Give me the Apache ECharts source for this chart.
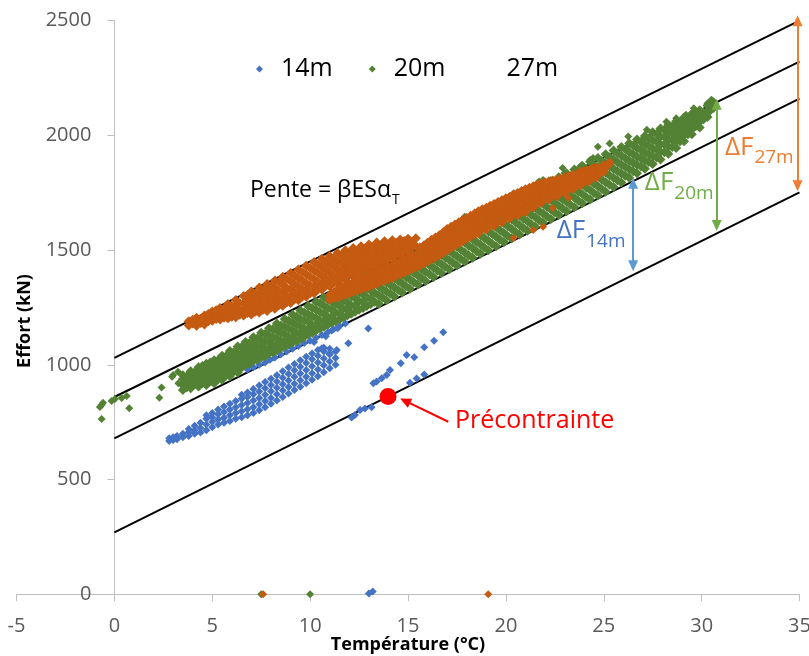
<!DOCTYPE html>
<html><head><meta charset="utf-8">
<script src="https://cdn.jsdelivr.net/npm/echarts@6/dist/echarts.min.js"></script>
<style>html,body{margin:0;padding:0;background:#fff}#c{width:809px;height:656px}</style>
</head><body><div id="c"></div>
<script>
// ---------- axes ----------
const xAxisRange = {min: -5, max: 35, interval: 5};
const yAxisRange = {min: 0, max: 2500, interval: 500};

// ---------- reference lines (slope = beta*E*S*alpha_T) ----------
const line1 = [[0, 1030], [35, 2500]];
const line2 = [[0, 860], [35, 2322]];
const line3 = [[0, 680], [35, 2160]];
const line4 = [[0, 270], [35, 1752]];

// ---------- 14m (blue) : columns [x, [y...]] ----------
const blueCols = [
 [2.8,[668,680]],[3.0,[672,684]],[3.2,[676,690]],[3.5,[684,700]],[3.8,[690,706,720]],
 [4.1,[700,715,735]],[4.4,[705,725,748]],[4.7,[715,740,765,780]],[5.0,[728,752,772,790]],
 [5.3,[740,762,785,805]],[5.6,[748,770,795,818]],[5.9,[755,780,805,830]],[6.2,[765,790,815,842]],
 [6.5,[772,798,825,852,870]],[6.8,[780,806,834,860,880]],[7.1,[790,815,845,872,895]],
 [7.4,[802,828,856,884,910]],[7.7,[815,842,870,898,925]],[8.0,[830,856,885,912,940]],
 [8.3,[845,872,900,928,955]],[8.6,[860,888,916,944,972]],[8.9,[875,903,932,960,988]],
 [9.2,[890,918,948,976,1004]],[9.5,[905,933,962,992,1020]],[9.8,[920,948,978,1008,1035]],
 [10.1,[935,963,994,1024,1050]],[10.4,[950,980,1010,1040,1065]],[10.7,[968,998,1028,1058,1075]],
 [11.0,[985,1015,1045,1070]],[11.3,[1000,1030,1058]]
];
const bluePts = [
 [6.8,980],[7.1,990],[7.4,1000],[7.7,1010],[7.95,1022],[8.2,1032],[8.5,1045],[8.8,1058],
 [9.1,1070],[9.4,1082],[9.7,1095],[10.0,1105],[10.3,1118],[10.6,1130],[10.9,1142],
 [11.2,1155],[11.5,1168],[11.8,1180],[9.0,1085],[10.2,1100],[10.8,1125],[11.1,1150],[11.4,1160],
 [10.6,1072],[11.0,1050],[11.36,1065],[11.95,1094],[12.97,1159],
 [12.12,771],[12.29,782],[12.55,803],[12.8,810],[13.14,815],[13.23,920],[13.4,927],
 [13.66,942],[13.91,956],[14.08,978],[14.63,1007],[14.93,1043],[15.32,1033],[15.83,1077],
 [16.33,1105],[16.8,1142],[15.1,922],[15.44,941],[15.83,958],[13.0,3],[13.2,12]
];

// ---------- 20m (green) ----------
const greenCols = [
 [3.5,[890,912,938,955]],[3.9,[898,925,950,972]],[4.3,[906,930,958,990]],
 [4.7,[912,940,965,988,1005]],[5.1,[920,948,975,1000,1020]],[5.5,[935,962,990,1015,1040]],
 [5.9,[950,977,1005,1033,1060]],[6.3,[967,995,1022,1050,1080]],[6.7,[1001,1025,1045,1070,1100]],
 [7.1,[1018,1040,1062,1090,1120]],[7.5,[1033,1055,1080,1108,1140]],[7.9,[1049,1070,1098,1128,1160]],
 [8.3,[1065,1088,1115,1148,1180]],[8.7,[1081,1102,1132,1165,1200]],[9.1,[1098,1120,1150,1185,1220]],
 [9.5,[1113,1136,1167,1200,1237]],[9.9,[1133,1155,1187,1220,1256]],[10.3,[1150,1172,1203,1240,1275]],
 [10.7,[1166,1190,1222,1258,1295]],[11.1,[1183,1207,1240,1275,1312]],[11.5,[1198,1222,1257,1292,1330]],
 [11.9,[1215,1240,1272,1310,1346]],[12.3,[1231,1256,1290,1327,1365]],[12.7,[1248,1273,1307,1345,1383]],
 [13.1,[1265,1288,1323,1362,1400]],[13.5,[1265,1303,1342,1380,1420]],[13.9,[1282,1320,1358,1398,1437]],
 [14.3,[1298,1337,1376,1415,1455]],[14.7,[1315,1355,1393,1433,1472]],[15.1,[1332,1372,1410,1450,1490]],
 [15.5,[1350,1390,1428,1468,1507]],[15.9,[1366,1405,1445,1485,1525]],[16.3,[1383,1423,1463,1503,1543]],
 [16.7,[1400,1440,1480,1520,1560]],[17.1,[1417,1457,1497,1538,1578]],[17.5,[1433,1473,1515,1555,1595]],
 [17.9,[1450,1490,1532,1572,1612]],[18.3,[1467,1508,1548,1590,1630]],[18.7,[1484,1525,1565,1606,1647]],
 [19.1,[1500,1541,1582,1623,1664]],[19.5,[1517,1558,1600,1641,1682]],[19.9,[1534,1575,1617,1658,1700]],
 [20.3,[1551,1592,1633,1675,1716]],[20.7,[1568,1609,1650,1692,1733]],[21.1,[1585,1626,1667,1709,1750]],
 [21.5,[1602,1643,1684,1725,1767]],[21.9,[1619,1660,1701,1742,1784]],[22.3,[1636,1677,1718,1760,1801]],
 [22.7,[1653,1694,1735,1777,1818]],[23.1,[1670,1711,1752,1794,1835]],[23.5,[1687,1728,1770,1811,1852]],
 [23.9,[1704,1745,1786,1827,1868]],[24.3,[1721,1762,1803,1844,1885]],[24.7,[1738,1779,1820,1861,1902]],
 [25.1,[1755,1796,1837,1878,1918]],[25.5,[1775,1815,1855,1895,1934]],[25.9,[1795,1834,1872,1911,1950]],
 [26.3,[1815,1853,1890,1928,1966]],[26.7,[1835,1872,1908,1945,1982]],[27.1,[1855,1891,1926,1962,1998]],
 [27.5,[1875,1910,1944,1979,2014]],[27.9,[1895,1929,1962,1996,2030]],[28.3,[1920,1952,1983,2015,2046]],
 [28.7,[1945,1975,2004,2033,2062]],[29.1,[1975,2001,2026,2052,2078]],[29.5,[2005,2027,2050,2072,2094]],
 [29.9,[2035,2060,2085,2110]],[30.3,[2080,2105,2130]],[30.6,[2120,2145]],
 [3.7,[902,928,950]],[4.1,[915,942,968]],[4.5,[920,948,975,995]],[4.9,[930,958,985,1010]],
 [5.3,[938,965,992,1020]],[5.7,[955,983,1010,1038]],[6.1,[972,1000,1028,1055]],
 [6.5,[988,1018,1048,1078]],[6.9,[1005,1035,1065,1095]],[7.3,[1022,1052,1083,1115]],
 [7.7,[1038,1070,1102,1135]],[8.1,[1055,1088,1120,1155]],[8.5,[1072,1105,1140,1172]],
 [8.9,[1090,1122,1158,1192]],[9.3,[1105,1140,1175,1210]],[9.7,[1122,1158,1193,1228]],
 [10.1,[1140,1175,1212,1248]],[10.5,[1158,1193,1230,1268]],[10.9,[1175,1210,1247,1285]],
 [11.3,[1190,1228,1265,1303]],[11.7,[1207,1245,1282,1320]],[12.1,[1223,1260,1298,1336]],
 [12.5,[1240,1278,1316,1355]],[12.9,[1257,1295,1333,1372]],[13.3,[1275,1313,1352,1390]],
 [13.7,[1292,1330,1368,1408]],[14.1,[1310,1348,1386,1425]],[14.5,[1326,1365,1404,1443]],
 [14.9,[1343,1382,1420,1460]],[15.3,[1360,1400,1440,1478]],[15.7,[1377,1417,1456,1495]],
 [16.1,[1395,1434,1473,1513]],[16.5,[1411,1451,1491,1531]],[16.9,[1428,1468,1508,1548]],
 [17.3,[1445,1485,1526,1566]],[17.7,[1461,1502,1543,1583]],[18.1,[1478,1519,1560,1600]],
 [18.5,[1495,1536,1577,1618]],[18.9,[1512,1553,1594,1635]],[19.3,[1528,1570,1611,1652]],
 [19.7,[1545,1587,1628,1670]],[20.1,[1562,1604,1645,1687]],[20.5,[1579,1620,1662,1703]],
 [20.9,[1596,1637,1679,1720]],[21.3,[1613,1654,1696,1737]],[21.7,[1630,1671,1713,1754]],
 [22.1,[1647,1688,1730,1771]],[22.5,[1664,1705,1747,1788]],[22.9,[1681,1722,1764,1805]],
 [23.3,[1698,1739,1781,1822]],[23.7,[1715,1756,1797,1839]],[24.1,[1732,1773,1814,1855]],
 [24.5,[1749,1790,1831,1872]],[24.9,[1766,1807,1848,1889]],[25.3,[1785,1825,1865,1905]],
 [25.7,[1805,1844,1883,1922]],[26.1,[1824,1862,1900,1940]],[26.5,[1844,1881,1918,1956]],
 [26.9,[1864,1900,1936,1972]],[27.3,[1884,1918,1953,1988]],[27.7,[1904,1938,1972,2006]],
 [28.1,[1927,1960,1993,2025]],[28.5,[1950,1980,2010,2040]],[28.9,[1975,2002,2030,2055]],
 [29.3,[2005,2030,2055,2076]],[29.7,[2040,2070,2095]],[30.1,[2070,2100]],[30.45,[2110,2135]]
];
const greenPts = [
 [-0.74,816],[-0.65,825],[-0.58,835],[-0.65,764],[-0.14,843],[0.03,851],[0.37,856],[0.63,864],
 [0.76,811],[2.3,857],[2.41,901],[3.0,956],[3.27,920],[3.25,970],[2.95,948],
 [17.5,1588],[17.9,1646],[18.17,1624],[20.4,1748],[20.6,1732],[21.6,1790],[21.7,1799],
 [21.9,1806],[22.9,1858],[23.0,1836],[23.8,1864],[24.3,1893],[24.45,1902],[24.7,1951],
 [25.3,1965],[26.25,1995],[27.2,2025],[27.7,2009],[28.2,2060],[28.7,2075],[29.2,2090],
 [29.6,2118],[30.3,2140],[30.5,2155],[10.0,0],[7.5,0]
];

// ---------- 27m (orange) ----------
const orangeCols = [
 [3.8,[1172,1190]],[4.2,[1170,1188,1205]],[4.6,[1176,1196,1215]],[5.0,[1192,1210,1233]],
 [5.4,[1198,1215,1232,1248]],[5.8,[1203,1222,1243,1265]],[6.2,[1208,1230,1255,1283]],
 [6.6,[1215,1240,1268,1300]],[7.0,[1220,1242,1265,1291,1320]],[7.4,[1228,1250,1278,1306,1337]],
 [7.8,[1235,1260,1288,1319,1352]],[8.2,[1245,1270,1300,1334,1368]],[8.6,[1258,1283,1315,1349,1384]],
 [9.0,[1270,1295,1328,1364,1400]],[9.4,[1282,1308,1342,1379,1416]],[9.8,[1297,1322,1357,1395,1432]],
 [10.2,[1312,1338,1373,1411,1448]],[10.6,[1328,1353,1388,1425,1462]],[11.0,[1343,1368,1402,1439,1475]],
 [11.4,[1358,1383,1416,1452,1487]],[11.8,[1372,1398,1430,1465,1499]],[12.2,[1386,1412,1444,1476,1509]],
 [12.6,[1400,1426,1455,1486,1517]],[13.0,[1414,1440,1468,1496,1525]],[13.4,[1428,1453,1480,1506,1533]],
 [13.8,[1445,1474,1507,1539]],[14.2,[1460,1486,1515,1543]],[14.6,[1476,1498,1522,1546]],
 [15.0,[1492,1520,1550]],[15.4,[1518,1552]],
 [4.0,[1180,1197]],[4.4,[1182,1200]],[4.8,[1190,1207,1222]],[5.2,[1200,1220,1238]],
 [5.6,[1205,1224,1245]],[6.0,[1210,1232,1255]],[6.4,[1218,1240,1268]],[6.8,[1226,1250,1278,1305]],
 [7.2,[1232,1255,1282,1312]],[7.6,[1240,1265,1295,1328]],[8.0,[1250,1277,1310,1343]],
 [8.4,[1260,1290,1323,1360]],[8.8,[1272,1302,1336,1374]],[9.2,[1285,1316,1352,1390]],
 [9.6,[1298,1331,1368,1405]],[10.0,[1312,1346,1384,1422]],[10.4,[1328,1362,1400,1437]],
 [10.8,[1344,1376,1413,1450]],[11.2,[1358,1391,1427,1463]],[11.6,[1374,1406,1441,1476]],
 [12.0,[1390,1420,1453,1487]],[12.4,[1404,1433,1465,1497]],[12.8,[1420,1447,1477,1506]],
 [13.2,[1434,1460,1488,1515]],[13.6,[1448,1470,1495,1520]],[14.0,[1464,1492,1522]],
 [14.4,[1480,1505,1532]],[14.8,[1496,1522,1540]],[15.2,[1510,1535]],
 // lower band (over the 20m cloud)
 [11.0,[1285,1305]],[11.4,[1292,1312,1330]],[11.8,[1305,1325,1345]],[12.2,[1318,1340,1360]],
 [12.6,[1330,1352,1375]],[13.0,[1342,1365,1390]],[13.4,[1355,1380,1405]],[13.8,[1368,1395,1420]],
 [14.2,[1380,1408,1432]],[14.6,[1395,1422,1450]],[15.0,[1410,1438,1465]],[15.4,[1425,1452,1480]],
 [15.8,[1442,1470,1498,1520]],[16.2,[1460,1488,1515,1545]],[16.6,[1478,1505,1535,1565]],
 [17.0,[1500,1530,1560,1592]],[17.4,[1520,1550,1580,1612]],[17.8,[1540,1570,1600,1632]],
 [18.2,[1560,1590,1620,1650]],[18.6,[1575,1605,1637,1669]],[19.0,[1590,1622,1654,1685]],
 [19.4,[1606,1638,1670,1701]],[19.8,[1622,1654,1686,1717]],[20.2,[1638,1670,1702,1733]],
 [20.6,[1652,1684,1716,1749]],[21.0,[1665,1698,1731,1765]],[21.4,[1686,1717,1748,1778]],
 [21.8,[1706,1735,1764,1792]],[22.2,[1722,1750,1778,1800]],[22.6,[1734,1760,1785,1807]],
 [23.0,[1750,1772,1795,1815]],[23.4,[1766,1788,1810,1828]],[23.8,[1782,1812,1842]],
 [24.2,[1798,1822,1848]],[24.6,[1815,1838,1860]],[25.0,[1842,1870]],[25.3,[1880]],
 [11.2,[1290,1315]],[11.6,[1300,1322,1340]],[12.0,[1312,1332,1352]],[12.4,[1325,1346,1368]],
 [12.8,[1336,1358,1382]],[13.2,[1348,1372,1398]],[13.6,[1362,1388,1412]],[14.0,[1374,1400,1426]],
 [14.4,[1388,1415,1442]],[14.8,[1402,1430,1458]],[15.2,[1418,1445,1472]],
 [15.6,[1433,1460,1488,1512]],[16.0,[1450,1478,1506,1532]],[16.4,[1468,1496,1525,1555]],
 [16.8,[1488,1515,1545,1578]],[17.2,[1510,1540,1570,1602]],[17.6,[1530,1560,1590,1622]],
 [18.0,[1550,1580,1610,1640]],[18.4,[1568,1598,1628,1660]],[18.8,[1595,1622,1650,1678]],
 [19.2,[1610,1638,1666,1694]],[19.6,[1626,1654,1682,1710]],[20.0,[1642,1670,1698,1726]],
 [20.4,[1657,1686,1714,1742]],[20.8,[1670,1700,1730,1758]],[21.2,[1688,1716,1745,1772]],
 [21.6,[1706,1734,1762,1786]],[22.0,[1722,1748,1772,1796]],[22.4,[1738,1762,1785,1804]],
 [22.8,[1752,1775,1798,1812]],[23.2,[1766,1788,1808,1822]],[23.6,[1782,1805,1830]],
 [24.0,[1800,1822,1845]],[24.4,[1815,1835,1855]],[24.8,[1835,1858]],[25.15,[1865]]
];
const orangePts = [
 [21.9,1602],[21.4,1588],[20.4,1553],[23.2,1727],[22.4,1684],[24.1,1840],[24.4,1852],
 [25.3,1886],[7.6,0],[19.1,0]
];

// ---------- prestress point ----------
const prestress = [[13.98, 862]];

// ---------- arrows (shaft ends, data coords) ----------
const arrows = [
 {from: [26.5, 1432], to: [26.5, 1792], color: '#5B9BD5', start: 'triangle'},
 {from: [30.77, 1607], to: [30.77, 2136], color: '#70AD47', start: 'triangle'},
 {from: [34.9, 1781], to: [34.9, 2500], color: '#ED7D31', start: 'triangle'},
 {from: [17.06, 752], to: [14.85, 843], color: '#FF0000', start: 'none'}
];

// ---------- text annotations (left edge / vertical centre in data coords) ----------
const notes = [
 {main: 'ΔF', sub: '14m', x: 22.6, y: 1584, color: '#4472C4', size: 26, subSize: 19},
 {main: 'ΔF', sub: '20m', x: 27.1, y: 1793, color: '#70AD47', size: 26, subSize: 19},
 {main: 'ΔF', sub: '27m', x: 31.19, y: 1947, color: '#ED7D31', size: 26, subSize: 19},
 {main: 'Pente = βESα', sub: 'T', x: 6.93, y: 1758, color: '#000000', size: 23, subSize: 14},
 {main: 'Précontrainte', sub: '', x: 17.4, y: 755, color: '#FF0000', size: 25, subSize: 14}
];

const FONT = 'Open Sans';
const flat = cols => cols.flatMap(([x, ys]) => ys.map(y => [x, y]));

const blueData = flat(blueCols).concat(bluePts);
const greenDense = flat(greenCols);
const greenData = greenDense.concat(greenPts);
const orangeDense = flat(orangeCols);
const orangeData = orangeDense.concat(orangePts);

const chart = echarts.init(document.getElementById('c'), null, {renderer: 'canvas'});

const lineSeries = (data) => ({
  type: 'line', data, symbol: 'none', silent: true, z: 1,
  lineStyle: {color: '#000', width: 2}, animation: false
});
// dense core columns drawn a little larger so the cloud reads as continuous
const sizeBy = (nDense) => (v, p) => (p.dataIndex < nDense ? 10 : 8);

const option = {
  animation: false,
  textStyle: {fontFamily: FONT},
  grid: {left: 16.5, right: 9.5, top: 20.7, bottom: 61.7, containLabel: false, outerBoundsMode: 'none'},
  legend: {
    left: 251, top: 49, itemWidth: 7, itemHeight: 7, itemGap: 36, selectedMode: false,
    icon: 'diamond',
    textStyle: {fontSize: 25, color: '#000', lineHeight: 30, padding: [0, 0, 0, 13], fontFamily: FONT},
    data: [{name: '14m'}, {name: '20m'}, {name: '27m', icon: 'none'}]
  },
  xAxis: {
    type: 'value', min: xAxisRange.min, max: xAxisRange.max, interval: xAxisRange.interval,
    axisLine: {onZero: false, lineStyle: {color: '#bfbfbf', width: 1}},
    axisTick: {show: true, length: 7, lineStyle: {color: '#bfbfbf'}},
    axisLabel: {color: '#595959', fontSize: 20, margin: 22, fontFamily: FONT, formatter: v => String(v)},
    splitLine: {show: false}
  },
  yAxis: {
    type: 'value', min: yAxisRange.min, max: yAxisRange.max, interval: yAxisRange.interval,
    offset: -97.9,
    axisLine: {show: true, onZero: false, lineStyle: {color: '#bfbfbf', width: 1}},
    axisTick: {show: true, length: 7, lineStyle: {color: '#bfbfbf'}},
    axisLabel: {color: '#595959', fontSize: 20, margin: 23, fontFamily: FONT, formatter: v => String(v)},
    splitLine: {show: false}
  },
  series: [
    lineSeries(line1), lineSeries(line2), lineSeries(line3),
    Object.assign(lineSeries(line4), {
      markLine: {
        silent: true, animation: false, symbolSize: [10, 11],
        label: {show: false},
        data: arrows.map(a => [
          {coord: a.from, symbol: a.start, lineStyle: {color: a.color, width: 2, type: 'solid'}, itemStyle: {color: a.color}},
          {coord: a.to, symbol: 'triangle'}
        ])
      }
    }),
    {name: '14m', type: 'scatter', symbol: 'diamond', symbolSize: 8, z: 3,
     itemStyle: {color: '#4472C4', opacity: 1}, data: blueData},
    {name: '20m', type: 'scatter', symbol: 'diamond', symbolSize: sizeBy(greenDense.length), z: 3,
     itemStyle: {color: '#548235', opacity: 1}, data: greenData},
    {name: '27m', type: 'scatter', symbol: 'diamond', symbolSize: sizeBy(orangeDense.length), z: 3,
     itemStyle: {color: '#C55A11', opacity: 1}, data: orangeData},
    {name: 'Précontrainte', type: 'scatter', symbol: 'circle', symbolSize: 17, z: 4,
     itemStyle: {color: '#FF0000', opacity: 1}, data: prestress}
  ]
};
chart.setOption(option);

// annotations placed from data coordinates
const ctx = document.createElement('canvas').getContext('2d');
const graphics = [];
notes.forEach(n => {
  const p = chart.convertToPixel({gridIndex: 0}, [n.x, n.y]);
  ctx.font = n.size + 'px "' + FONT + '"';
  const w = ctx.measureText(n.main).width;
  graphics.push({type: 'text', x: p[0], y: p[1], z: 10,
    style: {text: n.main, fill: n.color, font: n.size + 'px "' + FONT + '"', align: 'left', verticalAlign: 'middle'}});
  if (n.sub) {
    graphics.push({type: 'text', x: p[0] + w + 1, y: p[1] + n.size * 0.4, z: 10,
      style: {text: n.sub, fill: n.color, font: n.subSize + 'px "' + FONT + '"', align: 'left', verticalAlign: 'middle'}});
  }
});
graphics.push({type: 'text', x: 25, y: 321, rotation: Math.PI / 2,
  style: {text: 'Effort (kN)', fill: '#000', font: 'bold 18px "' + FONT + '"', align: 'center', verticalAlign: 'middle'}});
graphics.push({type: 'text', x: 408, y: 645,
  style: {text: 'Température (°C)', fill: '#000', font: 'bold 18px "' + FONT + '"', align: 'center', verticalAlign: 'middle'}});
chart.setOption({graphic: graphics});
</script>
</body></html>
